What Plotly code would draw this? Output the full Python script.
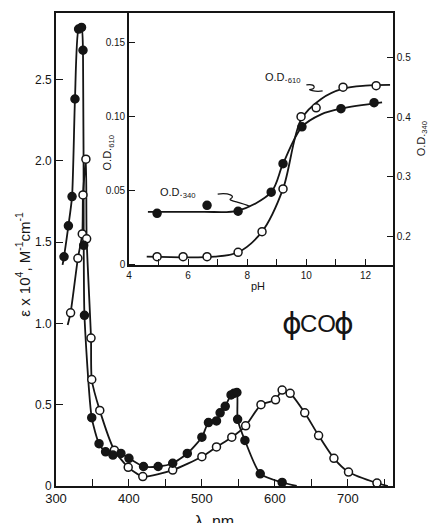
import plotly.graph_objects as go

# ---------------- main spectrum data ----------------
# filled circles
lam_filled = [311, 317, 322, 326, 331, 335, 337, 338, 339, 349, 359, 368, 378, 389, 400,
              420, 440, 460, 480, 500, 509, 520, 525, 532, 540, 544, 548, 549, 559, 580, 610]
eps_filled = [1.41, 1.60, 1.78, 2.38, 2.81, 2.82, 2.68, 1.48, 1.05, 0.42, 0.26, 0.21, 0.19, 0.20, 0.17,
              0.12, 0.12, 0.14, 0.20, 0.30, 0.39, 0.40, 0.45, 0.49, 0.56, 0.57, 0.575, 0.41, 0.28, 0.075, 0.022]
# ends of the drawn filled curve (no markers)
lam_filled_ends = [309, 630]
eps_filled_ends = [1.36, 0.0]

# open circles
lam_open = [320, 330, 336, 337, 341, 342, 348, 349, 360, 380, 399, 419, 460, 500, 520, 541,
            560, 581, 601, 610, 621, 641, 660, 681, 701, 740]
eps_open = [1.065, 1.40, 1.55, 1.79, 2.01, 1.52, 0.91, 0.655, 0.465, 0.22, 0.115, 0.058, 0.098, 0.18, 0.24, 0.30,
            0.37, 0.50, 0.53, 0.59, 0.57, 0.45, 0.31, 0.17, 0.086, 0.018]
lam_open_ends = [316, 755]
eps_open_ends = [0.99, 0.0]

main_xticks = [300, 400, 500, 600, 700]
main_yticks = [0, 0.5, 1.0, 1.5, 2.0, 2.5]
main_yticktext = ["0", "0.5", "1.0", "1.5", "2.0", "2.5"]

# ---------------- inset data (pH titration) ----------------
ph_610 = [4.95, 5.83, 6.64, 7.69, 8.50, 9.21, 9.82, 10.33, 11.24, 12.36]
od_610 = [0.005, 0.005, 0.005, 0.008, 0.022, 0.051, 0.100, 0.106, 0.120, 0.121]
# drawn curve through O.D.610 points
ph_610_curve = [4.6, 6.9, 7.69, 8.50, 9.21, 9.82, 10.5, 11.24, 12.0, 12.83]
od_610_curve = [0.005, 0.005, 0.008, 0.022, 0.051, 0.098, 0.112, 0.119, 0.121, 0.1215]

ph_340 = [4.95, 6.64, 7.69, 8.81, 9.21, 9.85, 11.17, 12.29]
od_340 = [0.2385, 0.252, 0.242, 0.274, 0.322, 0.384, 0.4145, 0.4245]
ph_340_curve = [4.64, 6.5, 7.69, 8.81, 9.21, 9.85, 10.5, 11.17, 12.56]
od_340_curve = [0.241, 0.241, 0.243, 0.274, 0.322, 0.384, 0.405, 0.4145, 0.425]

inset_xticks = [4, 6, 8, 10, 12]
inset_yticks = [0, 0.05, 0.10, 0.15]
inset_yticktext = ["0", "0.05", "0.10", "0.15"]
inset_y2ticks = [0.2, 0.3, 0.4, 0.5]
inset_y2ticktext = ["0.2", "0.3", "0.4", "0.5"]

INK = "#151515"
FONT = "Liberation Sans"

fig = go.Figure()

def curve(x, y, xa, ya, smooth=0.8):
    fig.add_trace(go.Scatter(x=x, y=y, xaxis=xa, yaxis=ya, mode="lines",
                             line=dict(color=INK, width=1.8, shape="spline", smoothing=smooth),
                             hoverinfo="skip", showlegend=False))

def pts(x, y, xa, ya, filled):
    fig.add_trace(go.Scatter(x=x, y=y, xaxis=xa, yaxis=ya, mode="markers",
                             marker=dict(size=8, color=INK if filled else "white",
                                         line=dict(color=INK, width=1.5)),
                             showlegend=False))

# main curves
curve([lam_filled_ends[0]] + lam_filled + [lam_filled_ends[1]],
      [eps_filled_ends[0]] + eps_filled + [eps_filled_ends[1]], "x", "y", 0.6)
curve([lam_open_ends[0]] + lam_open + [lam_open_ends[1]],
      [eps_open_ends[0]] + eps_open + [eps_open_ends[1]], "x", "y", 0.6)
pts(lam_open, eps_open, "x", "y", False)
pts(lam_filled, eps_filled, "x", "y", True)

# inset curves
curve(ph_610_curve, od_610_curve, "x2", "y2", 0.9)
curve(ph_340_curve, od_340_curve, "x2", "y3", 0.9)
pts(ph_610, od_610, "x2", "y2", False)
pts(ph_340, od_340, "x2", "y3", True)

axis_common = dict(showline=True, linecolor=INK, linewidth=1.6, ticks="inside",
                   tickcolor=INK, tickwidth=1.4, showgrid=False, zeroline=False,
                   tickfont=dict(family=FONT, size=12, color=INK))

fig.update_layout(
    width=428, height=523,
    margin=dict(l=56, r=35, t=11, b=37),
    paper_bgcolor="white", plot_bgcolor="white",
    xaxis=dict(axis_common, domain=[0, 1], range=[300, 762], tickvals=main_xticks,
               ticklen=7, mirror=True, anchor="y",
               minor=dict(dtick=50, ticks="inside", ticklen=7, tickcolor=INK, tickwidth=1.4),
               tickfont=dict(family=FONT, size=13, color=INK)),
    yaxis=dict(axis_common, domain=[0, 1], range=[0, 2.909], tickvals=main_yticks,
               ticktext=main_yticktext, ticklen=7, mirror=True, anchor="x",
               tickfont=dict(family=FONT, size=12, color=INK)),
    xaxis2=dict(axis_common, domain=[0.2166, 1], range=[4, 12.93], tickvals=inset_xticks,
                ticklen=6, anchor="y2", mirror=True,
                minor=dict(dtick=1, ticks="inside", ticklen=6, tickcolor=INK, tickwidth=1.2),
                tickfont=dict(family=FONT, size=10, color=INK)),
    yaxis2=dict(axis_common, domain=[0.467, 1], range=[-0.0007, 0.1703], tickvals=inset_yticks,
                ticktext=inset_yticktext, ticklen=6, anchor="x2",
                tickfont=dict(family=FONT, size=10, color=INK)),
    yaxis3=dict(axis_common, domain=[0.467, 1], range=[0.1514, 0.5754], tickvals=inset_y2ticks,
                ticktext=inset_y2ticktext, ticklen=6, anchor="x2", overlaying="y2", side="right",
                tickfont=dict(family=FONT, size=10, color=INK)),
)

ann_font = dict(family=FONT, color=INK)
fig.add_annotation(text="\u03b5 x 10<sup>4</sup>, M<sup>-1</sup>cm<sup>-1</sup>", textangle=-90,
                   xref="paper", yref="paper", x=-0.098, y=0.47, xanchor="center", yanchor="middle",
                   showarrow=False, font=dict(ann_font, size=15))
fig.add_annotation(text="\u03bb, nm", xref="paper", yref="paper", x=0.47, y=-0.075,
                   xanchor="center", yanchor="middle", showarrow=False, font=dict(ann_font, size=16))
fig.add_annotation(text="pH", xref="x2", yref="paper", x=8.35, y=0.422,
                   xanchor="center", yanchor="middle", showarrow=False, font=dict(ann_font, size=11))
fig.add_annotation(text="O.D.<sub>610</sub>", textangle=-90, xref="paper", yref="paper",
                   x=0.154, y=0.705, xanchor="center", yanchor="middle",
                   showarrow=False, font=dict(ann_font, size=11))
fig.add_annotation(text="O.D.<sub>340</sub>", textangle=-90, xref="paper", yref="paper",
                   x=1.086, y=0.735, xanchor="center", yanchor="middle",
                   showarrow=False, font=dict(ann_font, size=11))
fig.add_annotation(text="O.D.<sub>610</sub>", xref="x2", yref="y2", x=9.2, y=0.126,
                   xanchor="center", yanchor="middle", showarrow=False, font=dict(ann_font, size=11))
fig.add_annotation(text="O.D.<sub>340</sub>", xref="x2", yref="y2", x=5.65, y=0.0485,
                   xanchor="center", yanchor="middle", showarrow=False, font=dict(ann_font, size=11))
# the compound label: phi CO phi
fig.add_annotation(text="\u03d5", xref="x", yref="y", x=623, y=1.0, xanchor="center", yanchor="middle",
                   showarrow=False, font=dict(family="DejaVu Sans", size=30, color=INK))
fig.add_annotation(text="CO", xref="x", yref="y", x=659, y=1.0, xanchor="center", yanchor="middle",
                   showarrow=False, font=dict(family=FONT, size=24, color=INK))
fig.add_annotation(text="\u03d5", xref="x", yref="y", x=695, y=1.0, xanchor="center", yanchor="middle",
                   showarrow=False, font=dict(family="DejaVu Sans", size=30, color=INK))

# small squiggle leaders from labels to curves
fig.add_shape(type="path", xref="x2", yref="y2",
              path="M 10.0,0.1215 C 10.35,0.1225 10.3,0.1185 10.15,0.1185 C 10.0,0.1185 10.3,0.1165 10.55,0.1175",
              line=dict(color=INK, width=1.2))
fig.add_shape(type="path", xref="x2", yref="y2",
              path="M 7.0,0.0475 C 7.4,0.0485 7.6,0.046 7.45,0.0445 C 7.3,0.043 7.7,0.0425 8.1,0.039",
              line=dict(color=INK, width=1.2))

fig.write_html("out.html")
